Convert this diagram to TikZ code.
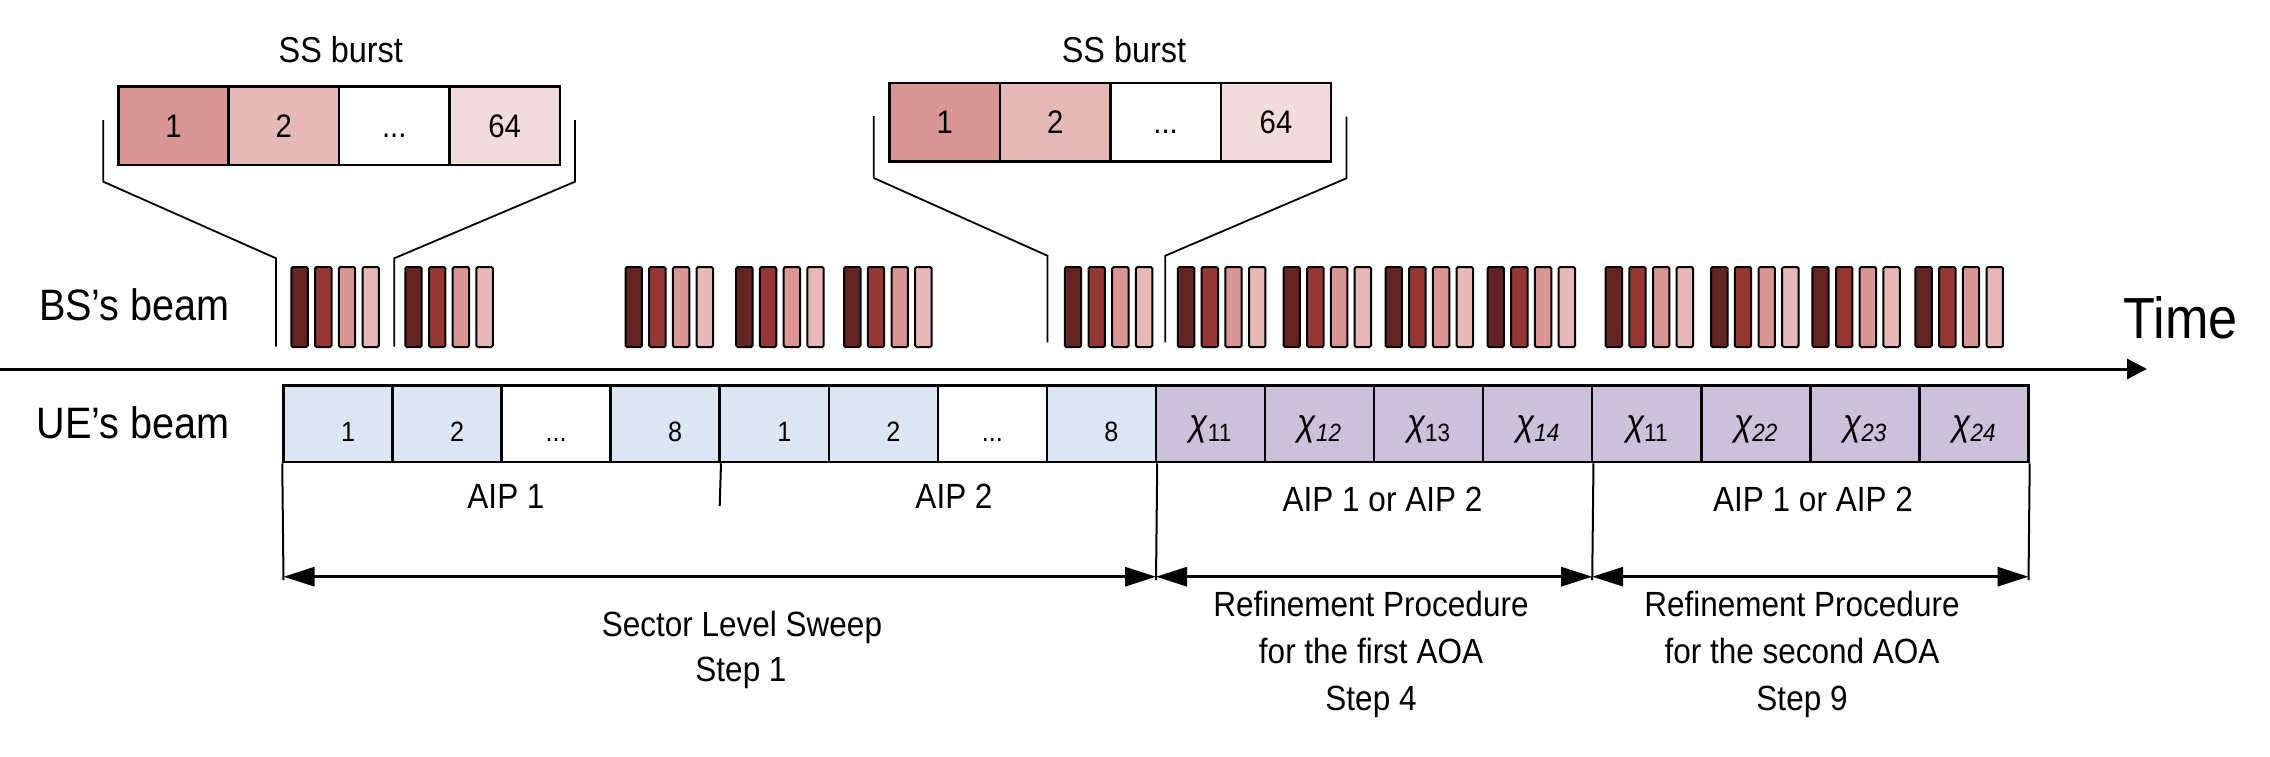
\documentclass[tikz,border=0pt]{standalone}
\usepackage{fontspec}
\setmainfont{Liberation Sans}[FakeStretch=0.9]
\usetikzlibrary{arrows.meta}
\definecolor{bdark}{HTML}{632523}
\definecolor{bred}{HTML}{953735}
\definecolor{bmid}{HTML}{D99694}
\definecolor{blight}{HTML}{E6B9B8}
\definecolor{bpale}{HTML}{F2DCDB}
\definecolor{ueblue}{HTML}{DCE6F2}
\definecolor{uepurple}{HTML}{CCC1DA}
\newcommand{\fsz}[1]{\fontsize{#1}{#1}\selectfont}
\newcommand{\chiS}[1]{\raisebox{0.2em}{\fsz{37}\itshape χ}{\fsz{25}#1}}
\begin{document}
\begin{tikzpicture}[x=1pt,y=-1pt,
  sscell/.style={draw, line width=2.5pt, minimum width=110.4pt, minimum height=78.3pt, inner sep=0pt, text height=23.3pt, text depth=0pt, font=\fsz{32.6}},
  uecell/.style={draw, line width=2.5pt, minimum width=109.06pt, minimum height=76.7pt, inner sep=0pt},
  uetxt/.style={anchor=base, inner sep=0pt, font=\fsz{28}},
  lbl/.style={anchor=base, inner sep=0pt, font=\fsz{35}},
  bar/.style={draw, line width=2pt, rounded corners=1.5pt},
  brk/.style={line width=1.8pt},
  vline/.style={line width=2pt},
  dbl/.style={line width=3pt, {Triangle[length=31pt,width=19pt]}-{Triangle[length=31pt,width=19pt]}},
]
\useasboundingbox (0,0) rectangle (2270,756);

% ---- SS burst boxes
\node[font=\fsz{36}, anchor=base, inner sep=0pt] (ssl1) at (340.8,62.7) {SS burst};
\node[sscell, fill=bmid]   (s11) at (173.5,125.85) {1};
\node[sscell, fill=blight] (s12) at (283.9,125.85) {2};
\node[sscell, fill=white]  (s13) at (394.3,125.85) {...};
\node[sscell, fill=bpale]  (s14) at (504.7,125.85) {64};

\node[font=\fsz{36}, anchor=base, inner sep=0pt] (ssl2) at (1124,62.7) {SS burst};
\node[sscell, fill=bmid]   (s21) at (944.8,122.2) {1};
\node[sscell, fill=blight] (s22) at (1055.2,122.2) {2};
\node[sscell, fill=white]  (s23) at (1165.6,122.2) {...};
\node[sscell, fill=bpale]  (s24) at (1276.0,122.2) {64};

% ---- zoom brackets
\coordinate (b1a) at (103.3,120);   \coordinate (b1b) at (103.3,181.7);
\coordinate (b1c) at (276,258.3);   \coordinate (b1d) at (276,346.7);
\coordinate (b2a) at (575,120);     \coordinate (b2b) at (575,181.7);
\coordinate (b2c) at (394.2,258.3); \coordinate (b2d) at (394.2,346.7);
\coordinate (b3a) at (873.8,116);   \coordinate (b3b) at (873.8,178);
\coordinate (b3c) at (1047.4,255.7);\coordinate (b3d) at (1047.4,342.3);
\coordinate (b4a) at (1346.4,116.5);\coordinate (b4b) at (1346.4,178.3);
\coordinate (b4c) at (1165.3,255.7);\coordinate (b4d) at (1165.3,342.3);
\foreach \k in {1,2,3,4} {
  \draw[brk, line join=miter] (b\k a) -- (b\k b) -- (b\k c) -- (b\k d);
}

% ---- BS beams
\foreach \gx in {291.4,405.3,625.5,736.2,844.1,1064.8,1177.9,1283.5,1385.5,1487.5,1605.6,1711.1,1812.3,1915.4} {
  \draw[bar, fill=bdark]  (\gx,267) rectangle ++(16.4,80);
  \draw[bar, fill=bred]   (\gx+23.7,267) rectangle ++(16.4,80);
  \draw[bar, fill=bmid]   (\gx+47.4,267) rectangle ++(16.4,80);
  \draw[bar, fill=blight] (\gx+71.1,267) rectangle ++(16.4,80);
}

% ---- row labels and time axis
\node[font=\fsz{44}, anchor=base east, inner sep=0pt] (bsl) at (230,320) {BS's beam};
\node[font=\fsz{44}, anchor=base east, inner sep=0pt] (uel) at (230,438.3) {UE's beam};
\node[font=\fsz{58}, anchor=base west, inner sep=0pt] (time) at (2123.6,338.3) {Time};
\coordinate (t0) at (0,369);
\coordinate (t1) at (2147,369);
\draw[line width=3pt, -{Triangle[length=20pt,width=20pt]}] (t0) -- (t1);

% ---- UE cells
\foreach \i/\f in {1/ueblue,2/ueblue,3/white,4/ueblue,5/ueblue,6/ueblue,7/white,8/ueblue,
                   9/uepurple,10/uepurple,11/uepurple,12/uepurple,13/uepurple,14/uepurple,15/uepurple,16/uepurple} {
  \node[uecell, fill=\f] (u\i) at ({283.5+109.06*(\i-0.5)},423.65) {};
}
\foreach \i/\t in {1/1,2/2,4/8,5/1,6/2,8/8} {
  \node[uetxt] (ut\i) at ({283.5+109.06*(\i-0.5)+10},441.3) {\t};
}
\foreach \i in {3,7} {
  \node[uetxt] (ut\i) at ({283.5+109.06*(\i-0.5)},441.3) {...};
}
\node[uetxt] (ut9)  at ({283.5+109.06*8.5},441.3)  {\chiS{11}};
\node[uetxt] (ut10) at ({283.5+109.06*9.5},441.3)  {\chiS{\textit{12}}};
\node[uetxt] (ut11) at ({283.5+109.06*10.5},441.3) {\chiS{13}};
\node[uetxt] (ut12) at ({283.5+109.06*11.5},441.3) {\chiS{\textit{14}}};
\node[uetxt] (ut13) at ({283.5+109.06*12.5},441.3) {\chiS{11}};
\node[uetxt] (ut14) at ({283.5+109.06*13.5},441.3) {\chiS{\textit{22}}};
\node[uetxt] (ut15) at ({283.5+109.06*14.5},441.3) {\chiS{\textit{23}}};
\node[uetxt] (ut16) at ({283.5+109.06*15.5},441.3) {\chiS{\textit{24}}};

% ---- dividers and span arrows
\coordinate (v0) at (283.5,580);
\coordinate (v1) at (719.7,506);
\coordinate (v2) at (1156,580);
\coordinate (v3) at (1592.2,580);
\coordinate (v4) at (2028.5,580);
\draw[vline] (u1.south west) -- (v0);
\draw[vline] (u4.south east) -- (v1);
\draw[vline] (u8.south east) -- (v2);
\draw[vline] (u12.south east) -- (v3);
\draw[vline] (u16.south east) -- (v4);
\coordinate (a0) at (283.5,576.7);
\coordinate (a1) at (1156,576.7);
\coordinate (a2) at (1592.2,576.7);
\coordinate (a3) at (2028.5,576.7);
\draw[dbl] (a0) -- (a1);
\draw[dbl] (a1) -- (a2);
\draw[dbl] (a2) -- (a3);

% ---- text labels
\node[lbl] (aip1) at (506,508) {AIP 1};
\node[lbl] (aip2) at (954,508) {AIP 2};
\node[lbl] (aip3) at (1382.5,511) {AIP 1 or AIP 2};
\node[lbl] (aip4) at (1813,511) {AIP 1 or AIP 2};
\node[lbl] (sls1) at (742,636.7) {Sector Level Sweep};
\node[lbl] (sls2) at (741,681.7) {Step 1};
\node[lbl] (rf1a) at (1371,616.7) {Refinement Procedure};
\node[lbl] (rf1b) at (1371,663) {for the first AOA};
\node[lbl] (rf1c) at (1371,710) {Step 4};
\node[lbl] (rf2a) at (1802,616.7) {Refinement Procedure};
\node[lbl] (rf2b) at (1802,663) {for the second AOA};
\node[lbl] (rf2c) at (1802,710) {Step 9};
\end{tikzpicture}
\end{document}
